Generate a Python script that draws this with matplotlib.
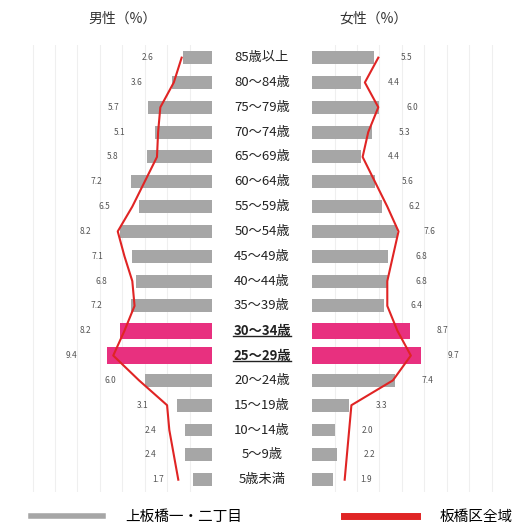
import matplotlib.pyplot as plt
from matplotlib.lines import Line2D
from matplotlib.transforms import blended_transform_factory

plt.rcParams['font.family'] = ['Noto Sans CJK JP', 'DejaVu Sans']

ages = ["85歳以上", "80～84歳", "75～79歳", "70～74歳", "65～69歳", "60～64歳",
        "55～59歳", "50～54歳", "45～49歳", "40～44歳", "35～39歳", "30～34歳",
        "25～29歳", "20～24歳", "15～19歳", "10～14歳", "5～9歳", "5歳未満"]

# 上板橋一・二丁目
male = [2.6, 3.6, 5.7, 5.1, 5.8, 7.2, 6.5, 8.2, 7.1, 6.8, 7.2, 8.2, 9.4, 6.0, 3.1, 2.4, 2.4, 1.7]
female = [5.5, 4.4, 6.0, 5.3, 4.4, 5.6, 6.2, 7.6, 6.8, 6.8, 6.4, 8.7, 9.7, 7.4, 3.3, 2.0, 2.2, 1.9]

# 板橋区全域
male_all = [2.7, 3.4, 4.6, 4.8, 4.9, 6.0, 7.1, 8.4, 7.8, 7.1, 6.9, 7.8, 8.8, 6.5, 4.0, 3.8, 3.4, 3.0]
female_all = [5.9, 4.7, 5.9, 5.0, 4.5, 5.6, 6.7, 7.7, 7.2, 6.7, 6.7, 7.6, 8.8, 7.2, 3.5, 3.3, 3.1, 2.9]

highlight = ["30～34歳", "25～29歳"]

gray = "#a6a6a6"
pink = "#e8307f"
red = "#e02424"

fig = plt.figure(figsize=(5.22, 5.32), dpi=100)
ax_m = fig.add_axes([0.015, 0.075, 0.391, 0.84])
ax_f = fig.add_axes([0.598, 0.075, 0.391, 0.84])

y = list(range(len(ages)))
cols = [pink if a in highlight else gray for a in ages]
hts = [0.66 if a in highlight else 0.52 for a in ages]

for ax, vals, allv, off in [(ax_m, male, male_all, 3.1), (ax_f, female, female_all, 2.9)]:
    ax.barh(y, vals, height=hts, color=cols, zorder=2)
    ax.plot(allv, y, color=red, lw=1.5, zorder=3)
    for yi, v in zip(y, vals):
        ax.text(v + off, yi, f"{v:.1f}", ha="center", va="center", fontsize=6, color="#555555")
    ax.set_ylim(len(ages) - 0.5, -0.5)
    ax.set_xticks([2, 4, 6, 8, 10, 12, 14, 16])
    ax.grid(axis="x", color="#efefef", lw=0.8, zorder=0)
    ax.tick_params(length=0, labelbottom=False, labelleft=False)
    for s in ax.spines.values():
        s.set_visible(False)

ax_m.set_xlim(18.2, 0)
ax_f.set_xlim(0, 18.2)

tr = blended_transform_factory(fig.transFigure, ax_m.transData)
texts = []
for yi, a in zip(y, ages):
    bold = a in highlight
    t = ax_m.text(0.502, yi, a, transform=tr, ha="center", va="center", fontsize=9.5,
                  fontweight="bold" if bold else "normal", color="#222222", clip_on=False)
    if bold:
        texts.append(t)

fig.canvas.draw()
r = fig.canvas.get_renderer()
for t in texts:
    bb = t.get_window_extent(r).transformed(fig.transFigure.inverted())
    fig.add_artist(Line2D([bb.x0, bb.x1], [bb.y0 + 0.003, bb.y0 + 0.003],
                          transform=fig.transFigure, color="#222222", lw=1))

fig.text(0.235, 0.965, "男性（%）", ha="center", va="center", fontsize=10, color="#333333")
fig.text(0.715, 0.965, "女性（%）", ha="center", va="center", fontsize=10, color="#333333")

handles = [Line2D([], [], color=gray, lw=4), Line2D([], [], color=red, lw=5)]
fig.legend(handles, ["上板橋一・二丁目", "板橋区全域"], loc="lower center",
           bbox_to_anchor=(0.52, -0.01), ncol=2, frameon=False, fontsize=10.5,
           handlelength=5, columnspacing=7, handletextpad=1.5)

fig.savefig("out.png", dpi=100)
